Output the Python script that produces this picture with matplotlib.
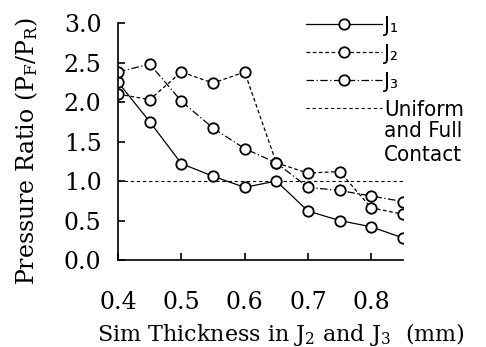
import matplotlib
matplotlib.use("Agg")
import matplotlib.pyplot as plt
from matplotlib.lines import Line2D

thickness = [0.40, 0.45, 0.50, 0.55, 0.60, 0.65, 0.70, 0.75, 0.80, 0.85]
j1 = [2.25, 1.75, 1.22, 1.06, 0.92, 1.00, 0.62, 0.50, 0.42, 0.28]
j2 = [2.10, 2.03, 2.38, 2.24, 2.38, 1.23, 1.10, 1.12, 0.66, 0.58]
j3 = [2.38, 2.48, 2.01, 1.67, 1.41, 1.23, 0.92, 0.88, 0.81, 0.74]
uniform_x = [0.40, 0.85]
uniform_y = [1.0, 1.0]
xticks = [0.4, 0.5, 0.6, 0.7, 0.8]
yticks = [0.0, 0.5, 1.0, 1.5, 2.0, 2.5, 3.0]

plt.rcParams['font.family'] = ['DejaVu Serif']
plt.rcParams['mathtext.fontset'] = 'dejavuserif'

fig = plt.figure(figsize=(4.86, 3.47), dpi=100)
ax = fig.add_axes([0.243, 0.2507, 0.586, 0.683])

mk = dict(marker='o', markersize=7.5, markerfacecolor='white',
          markeredgecolor='black', markeredgewidth=1.3, color='black', lw=0.9)
ls2 = (0, (3, 2))
ls3 = (0, (6, 2, 1, 2))
lsu = (0, (3, 2.5))
ax.plot(thickness, j1, linestyle='-', **mk)
ax.plot(thickness, j2, linestyle=ls2, **mk)
ax.plot(thickness, j3, linestyle=ls3, **mk)
ax.plot(uniform_x, uniform_y, color='black', lw=0.8, linestyle=lsu, zorder=1)

ax.set_xlim(0.4, 0.85)
ax.set_ylim(0, 3.0)
ax.set_xticks(xticks)
ax.set_xticklabels([f"{v:.1f}" for v in xticks])
ax.set_yticks(yticks)
ax.set_yticklabels([f"{v:.1f}" for v in yticks])
for s in ['top', 'right']:
    ax.spines[s].set_visible(False)
for s in ['left', 'bottom']:
    ax.spines[s].set_linewidth(1.2)
ax.tick_params(axis='x', direction='in', length=5, width=1.2, pad=22, labelsize=17)
ax.tick_params(axis='y', direction='in', length=5, width=1.2, pad=12, labelsize=17)
ax.set_xlabel('Sim Thickness in J$_2$ and J$_3$  (mm)', fontsize=16, va='center')
ax.xaxis.set_label_coords(0.572, -0.316)
ax.set_ylabel('Pressure Ratio (P$_\\mathrm{F}$/P$_\\mathrm{R}$)', fontsize=17, va='center')
ax.yaxis.set_label_coords(-0.32, 0.46)
for t in ax.get_xticklabels() + ax.get_yticklabels():
    t.set_clip_on(False)

legfont = {'family': 'DejaVu Sans', 'stretch': 'condensed', 'size': 16}
handles = [
    Line2D([], [], linestyle='-', **mk),
    Line2D([], [], linestyle=ls2, **mk),
    Line2D([], [], linestyle=ls3, **mk),
    Line2D([], [], color='black', lw=0.8, linestyle=lsu),
]
labels = ['J\u2081', 'J\u2082', 'J\u2083', 'Uniform']
leg = fig.legend(handles, labels, loc='upper left', bbox_to_anchor=(0.630, 0.955),
                 frameon=False, prop=legfont,
                 handlelength=3.4, handletextpad=0.1,
                 labelspacing=0.36, borderaxespad=0.0, borderpad=0.0)
fig.text(384 / 486, 1 - 131 / 347, 'and Full', ha='left', va='center',
         family='DejaVu Sans', stretch='condensed', size=16)
fig.text(384 / 486, 1 - 155 / 347, 'Contact', ha='left', va='center',
         family='DejaVu Sans', stretch='condensed', size=16)

fig.savefig('out.png', dpi=100)
